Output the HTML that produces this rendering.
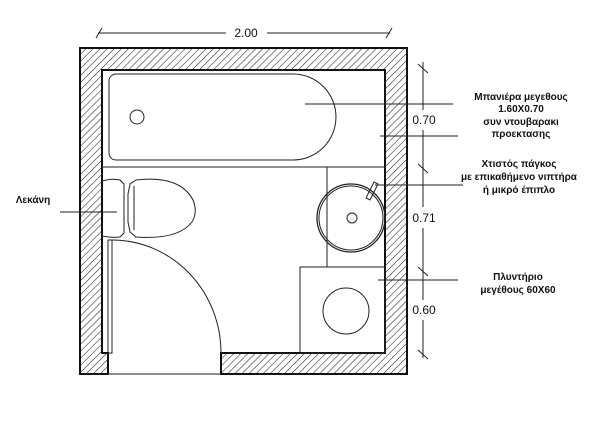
<!DOCTYPE html>
<html><head><meta charset="utf-8"><style>
body{margin:0;background:#fff}
svg{display:block}
text{font-family:"Liberation Sans",sans-serif;fill:#111}
.b{font-weight:bold;font-size:10px}
.d{font-size:12px}
</style></head><body>
<svg width="600" height="423" viewBox="0 0 600 423">
<defs>
<pattern id="h" width="5" height="5" patternUnits="userSpaceOnUse" patternTransform="rotate(45)">
<rect width="5" height="5" fill="#fff"/><line x1="0" y1="0" x2="0" y2="5" stroke="#222" stroke-width="1.1"/>
</pattern>
</defs>
<!-- walls -->
<path d="M80,48 H407 V374 H221 V353 H385 V70 H102 V353 H108 V374 H80 Z" fill="url(#h)" stroke="#111" stroke-width="2"/>
<g fill="none" stroke="#222" stroke-width="1">
<path d="M116,74 H293 A43,43 0 0 1 293,160 H116 A7,7 0 0 1 109,153 V81 A7,7 0 0 1 116,74 Z"/>
<circle cx="137" cy="117" r="7"/>
<line x1="102" y1="167" x2="385" y2="167"/>
<line x1="327" y1="167" x2="327" y2="267"/>
<circle cx="351" cy="218" r="34" stroke-width="1.3"/>
<circle cx="351" cy="218" r="32"/>
<circle cx="352" cy="218" r="5"/>
<path d="M366,198 L374,182 L378,184 L370,200 Z"/>
<rect x="300" y="267" width="85" height="86"/>
<circle cx="346" cy="311" r="23"/>
<path d="M102,181 Q112,178 120,180 L124,184 L124,233 L120,237 Q112,238 102,236"/>
<path d="M130,184 L136,180 Q180,175 193,200 Q198,212 192,222 Q178,240 136,237 L130,232 L128,222 L128,194 Z"/>
<path d="M134,186 L134,230"/>
<rect x="108" y="240" width="4" height="113"/>
<path d="M112,240 A109,113 0 0 1 221,353"/>
<line x1="108" y1="374" x2="221" y2="374"/>
<line x1="98" y1="33" x2="226" y2="33"/><line x1="267" y1="33" x2="390" y2="33"/>
<line x1="96" y1="38" x2="102" y2="28"/><line x1="386" y1="38" x2="392" y2="28"/>
<line x1="423" y1="62" x2="423" y2="110"/><line x1="423" y1="130" x2="423" y2="207"/>
<line x1="423" y1="228" x2="423" y2="300"/><line x1="423" y1="320" x2="423" y2="358"/>
<line x1="418" y1="64" x2="428" y2="73"/><line x1="418" y1="164" x2="428" y2="173"/>
<line x1="418" y1="267" x2="428" y2="276"/><line x1="418" y1="350" x2="428" y2="359"/>
<line x1="305" y1="104" x2="453" y2="104"/>
<line x1="380" y1="136" x2="458" y2="136"/>
<line x1="375" y1="185" x2="463" y2="185"/>
<line x1="378" y1="280" x2="458" y2="280"/>
<line x1="60" y1="212" x2="117" y2="212"/>
</g>
<text x="246" y="37" class="d" text-anchor="middle">2.00</text>
<text x="424" y="124" class="d" text-anchor="middle">0.70</text>
<text x="424" y="222" class="d" text-anchor="middle">0.71</text>
<text x="424" y="314" class="d" text-anchor="middle">0.60</text>
<g class="b" text-anchor="middle">
<text x="521" y="100" class="b">Μπανιέρα μεγεθους</text>
<text x="521" y="112" class="b">1.60Χ0.70</text>
<text x="521" y="125" class="b">συν ντουβαρακι</text>
<text x="521" y="137" class="b">προεκτασης</text>
<text x="519" y="167" class="b">Χτιστός πάγκος</text>
<text x="519" y="180" class="b">με επικαθήμενο νιπτήρα</text>
<text x="519" y="193" class="b">ή μικρό έπιπλο</text>
<text x="518" y="280" class="b">Πλυντήριο</text>
<text x="518" y="293" class="b">μεγέθους 60Χ60</text>
<text x="33" y="203" class="b">Λεκάνη</text>
</g>
</svg>
</body></html>
